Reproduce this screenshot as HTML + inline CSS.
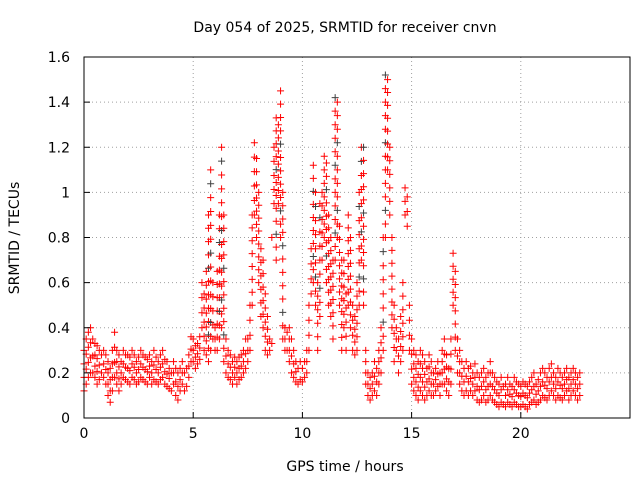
<!DOCTYPE html>
<html><head><meta charset="utf-8"><style>
body{margin:0;background:#fff;font-family:"DejaVu Sans","Liberation Sans",sans-serif}
svg text{font-family:"DejaVu Sans","Liberation Sans",sans-serif;font-size:14px;fill:#000}
</style></head><body>
<svg width="640" height="480" xmlns="http://www.w3.org/2000/svg">
<rect x="0" y="0" width="640" height="480" fill="#fff"/>
<g id="grid"></g><g id="marks"></g><g id="axes"></g>
<text x="345" y="32" text-anchor="middle">Day 054 of 2025, SRMTID for receiver cnvn</text>
<text x="345" y="471" text-anchor="middle">GPS time / hours</text>
<text transform="translate(19,238) rotate(-90)" text-anchor="middle">SRMTID / TECUs</text>
</svg>
<script>
const xTicks=[0,5,10,15,20];
const yTicks=[0,0.2,0.4,0.6,0.8,1,1.2,1.4,1.6];
const yTickLabels=["0","0.2","0.4","0.6","0.8","1","1.2","1.4","1.6"];
const hiVals=[.3,.35,.38,.4,.35,.33,.32,.3,.28,.3,
.28,.25,.22,.3,.38,.3,.28,.25,.3,.28,
.28,.27,.3,.28,.25,.27,.3,.28,.27,.26,
.28,.25,.3,.27,.25,.28,.3,.26,.25,.22,
.2,.25,.22,.2,.22,.25,.2,.22,.28,.36,
.35,.32,.33,.36,.6,.55,.65,.9,1.1,.6,
.4,.65,.9,1.2,.9,.35,.3,.28,.25,.27,
.25,.27,.28,.3,.35,.35,.5,.9,1.22,1.15,
1.0,.75,.7,.55,.45,.35,.33,1.2,1.33,1.3,
1.45,1.0,.4,.38,.4,.35,.3,.25,.22,.25,
.22,.25,.3,.5,.75,1.12,1.0,.6,.95,1.0,
1.16,1.13,.9,.8,.7,1.42,1.4,.85,.7,.7,
.55,.9,.8,.5,.45,.6,1.0,1.2,1.2,.3,
.2,.18,.2,.25,.22,.3,.4,.8,1.52,1.5,
1.2,.8,.5,.4,.35,.45,.6,1.02,.98,.5,
.35,.3,.28,.25,.3,.28,.25,.22,.28,.25,
.2,.22,.25,.2,.3,.35,.28,.22,.35,.73,
.65,.35,.3,.25,.22,.25,.22,.23,.2,.24,
.2,.18,.2,.22,.18,.2,.25,.2,.18,.16,
.15,.18,.14,.15,.18,.15,.14,.18,.16,.15,
.14,.16,.15,.14,.16,.18,.2,.15,.17,.2,
.22,.2,.18,.22,.24,.2,.18,.22,.2,.18,
.2,.22,.18,.2,.22,.2,.18,.2];
const loVals=[.12,.15,.18,.2,.2,.18,.15,.17,.2,.18,
.15,.1,.07,.12,.18,.15,.12,.15,.18,.17,
.16,.15,.18,.17,.15,.16,.18,.17,.16,.15,
.18,.15,.17,.16,.15,.17,.18,.15,.14,.13,
.12,.15,.1,.08,.12,.15,.12,.14,.18,.25,
.25,.22,.24,.26,.4,.3,.28,.25,.3,.35,
.3,.3,.35,.4,.25,.2,.18,.17,.15,.18,
.15,.17,.18,.2,.22,.25,.3,.5,.9,.8,
.6,.45,.4,.3,.28,.3,.8,.95,.7,.95,
.8,.35,.3,.3,.25,.2,.18,.16,.15,.17,
.16,.18,.2,.3,.55,.6,.5,.3,.45,.7,
.8,.6,.5,.45,.35,.7,.8,.5,.3,.4,
.3,.5,.4,.3,.28,.3,.5,.7,.5,.15,
.1,.08,.1,.12,.1,.15,.2,.3,.8,1.1,
.9,.4,.25,.3,.2,.25,.3,.9,.85,.3,
.15,.12,.1,.08,.12,.1,.08,.1,.12,.1,
.1,.12,.14,.1,.15,.15,.12,.1,.15,.5,
.3,.2,.15,.12,.1,.12,.1,.12,.1,.12,
.08,.07,.08,.1,.07,.08,.1,.08,.07,.06,
.05,.07,.06,.05,.07,.06,.05,.07,.06,.05,
.05,.06,.05,.04,.06,.07,.08,.06,.07,.08,
.1,.09,.08,.1,.12,.1,.08,.1,.09,.08,
.1,.12,.08,.1,.12,.1,.08,.1];
const L=84,R=630,T=57,B=418,XMAX=25,YMAX=1.6;
const xs=v=>L+v/XMAX*(R-L), ys=v=>B-v/YMAX*(B-T);
const NS="http://www.w3.org/2000/svg";
function mk(tag,attrs,parent){const e=document.createElementNS(NS,tag);for(const k in attrs)e.setAttribute(k,attrs[k]);parent.appendChild(e);return e;}
const grid=document.getElementById('grid'),axes=document.getElementById('axes'),marks=document.getElementById('marks');
xTicks.forEach(t=>{const x=xs(t);
 if(t>0){const g=mk('line',{x1:x,x2:x,y1:T,y2:B,stroke:'#a0a0a0','stroke-dasharray':'1,3'},grid);
 }
 const tk=mk('line',{x1:x,x2:x,y1:B,y2:B-6,stroke:'#000'},axes);
 
 const tx=mk('text',{x:x,y:B+20,'text-anchor':'middle'},axes);tx.textContent=t;
 });
yTicks.forEach((t,i)=>{const y=ys(t);
 if(t>0&&t<YMAX){const g=mk('line',{x1:L,x2:R,y1:y,y2:y,stroke:'#a0a0a0','stroke-dasharray':'1,3'},grid);
 }
 const tk=mk('line',{x1:L,x2:L+6,y1:y,y2:y,stroke:'#000'},axes);
 
 const tx=mk('text',{x:L-14,y:y+5,'text-anchor':'end'},axes);tx.textContent=yTickLabels[i];
 });
const frame=mk('rect',{x:L,y:T,width:R-L,height:B-T,fill:'none',stroke:'#000'},axes);

function cross(x,y,col){const p=mk('path',{d:`M${x-3.5},${y}h7M${x},${y-3.5}v7`,stroke:col,'stroke-width':1,fill:'none'},marks);
 }
hiVals.forEach((h,i)=>{const lo=loVals[i],t=i/10,x=xs(t);
 const span=h-lo;const n=Math.max(1,Math.round(span/0.06));
 for(let k=0;k<=n;k++){const v=lo+span*k/n;
  const col=(span>0.4&&k%5==2)?'#404040':'#ff0000';
  cross(x,ys(v),col);}
});
</script>
</body></html>
